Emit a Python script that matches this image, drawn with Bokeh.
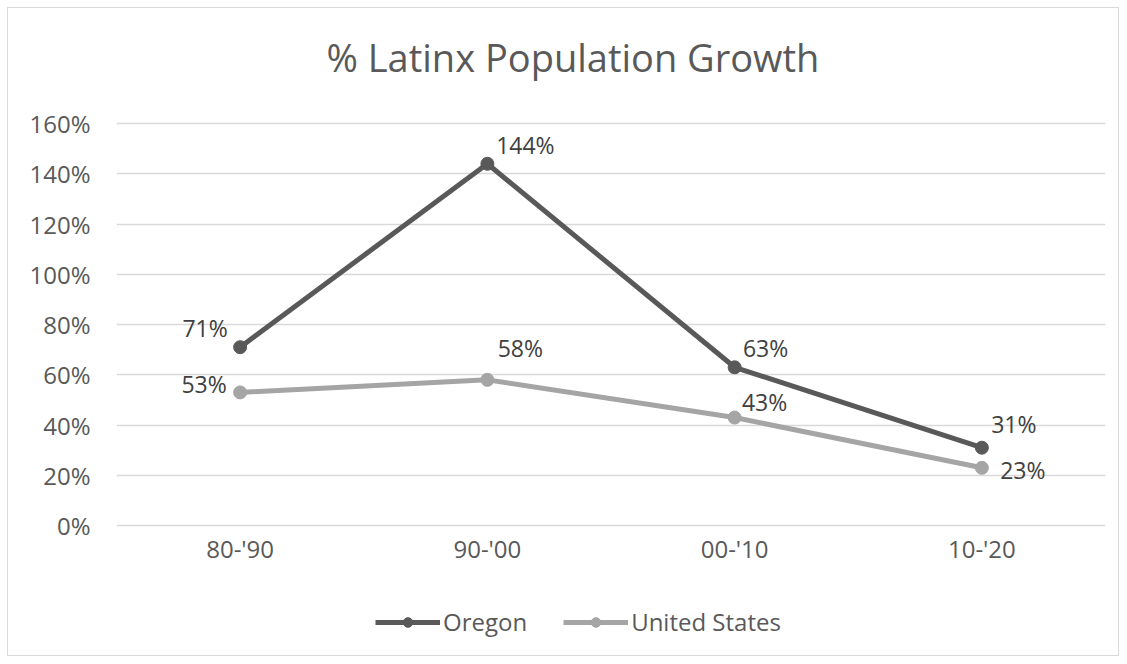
from bokeh.plotting import figure
from bokeh.models import (ColumnDataSource, FactorRange, Range1d, NumeralTickFormatter,
                          FixedTicker, Legend, LegendItem, Label)
from bokeh.core.properties import value
from bokeh.embed import file_html
from bokeh.resources import INLINE

categories = ["80-'90", "90-'00", "00-'10", "10-'20"]
oregon = [0.71, 1.44, 0.63, 0.31]
united_states = [0.53, 0.58, 0.43, 0.23]
y_ticks = [0, 0.2, 0.4, 0.6, 0.8, 1.0, 1.2, 1.4, 1.6]
title_text = "% Latinx Population Growth"

# label offsets (styling, in pixels)
or_dx = [-35, 38, 31, 32]
or_dy = [-19, -19, -19, -24]
us_dx = [-36, 33, 30, 41]
us_dy = [-8, -32, -16, 2]

FONT = "Open Sans"
DARK = "#595959"
LIGHT = "#A5A5A5"
TXT = "#404040"

# frame spans the whole chart area (title and legend sit inside it);
# gridlines come only from the 0..160% ticks, x axis pinned at y=0
p = figure(x_range=FactorRange(*categories), y_range=Range1d(-0.525, 2.058),
           width=1112, height=649, output_backend="svg", toolbar_location=None,
           min_border_left=108, min_border_right=15, min_border_top=0, min_border_bottom=0)
p.styles = {"margin-left": "7px", "margin-top": "7px", "border": "1px solid #D9D9D9"}
p.outline_line_color = None
p.xgrid.grid_line_color = None
p.ygrid.grid_line_color = "#D9D9D9"
p.ygrid.grid_line_width = 1.3

p.yaxis.ticker = FixedTicker(ticks=y_ticks)
p.yaxis.formatter = NumeralTickFormatter(format="0%")
for ax in (p.xaxis, p.yaxis):
    ax.axis_line_color = None
    ax.major_tick_line_color = None
    ax.minor_tick_line_color = None
    ax.major_label_text_font = FONT
    ax.major_label_text_font_size = "24px"
    ax.major_label_text_color = DARK
p.yaxis.major_label_standoff = 20
p.xaxis.major_label_standoff = 0
p.xaxis.fixed_location = 0

src_or = ColumnDataSource(dict(x=categories, y=oregon, t=[f"{round(v*100)}%" for v in oregon],
                               dx=or_dx, dy=or_dy))
src_us = ColumnDataSource(dict(x=categories, y=united_states, t=[f"{round(v*100)}%" for v in united_states],
                               dx=us_dx, dy=us_dy))

l_us = p.line("x", "y", source=src_us, color=LIGHT, line_width=5)
s_us = p.scatter("x", "y", source=src_us, color=LIGHT, size=13)
l_or = p.line("x", "y", source=src_or, color=DARK, line_width=5)
s_or = p.scatter("x", "y", source=src_or, color=DARK, size=13)

for src in (src_or, src_us):
    p.text("x", "y", text="t", source=src, x_offset="dx", y_offset="dy",
           text_font=value(FONT), text_font_size="23px", text_color=TXT,
           text_align="center", text_baseline="middle")

p.add_layout(Label(x=1.846, y=1.866, text=title_text, text_font=FONT, text_font_size="38px",
                   text_color=DARK, text_align="center", text_baseline="middle"))

legend = Legend(items=[LegendItem(label="Oregon", renderers=[l_or, s_or]),
                       LegendItem(label="United States", renderers=[l_us, s_us])],
                orientation="horizontal", location=(259, 19),
                glyph_width=65, glyph_height=24, spacing=36, label_standoff=3,
                padding=0, margin=0, border_line_color=None, background_fill_alpha=0,
                label_text_font=FONT, label_text_font_size="24px", label_text_color=DARK,
                label_height=24)
p.add_layout(legend, "center")

open("out.html", "w").write(file_html(p, INLINE))
